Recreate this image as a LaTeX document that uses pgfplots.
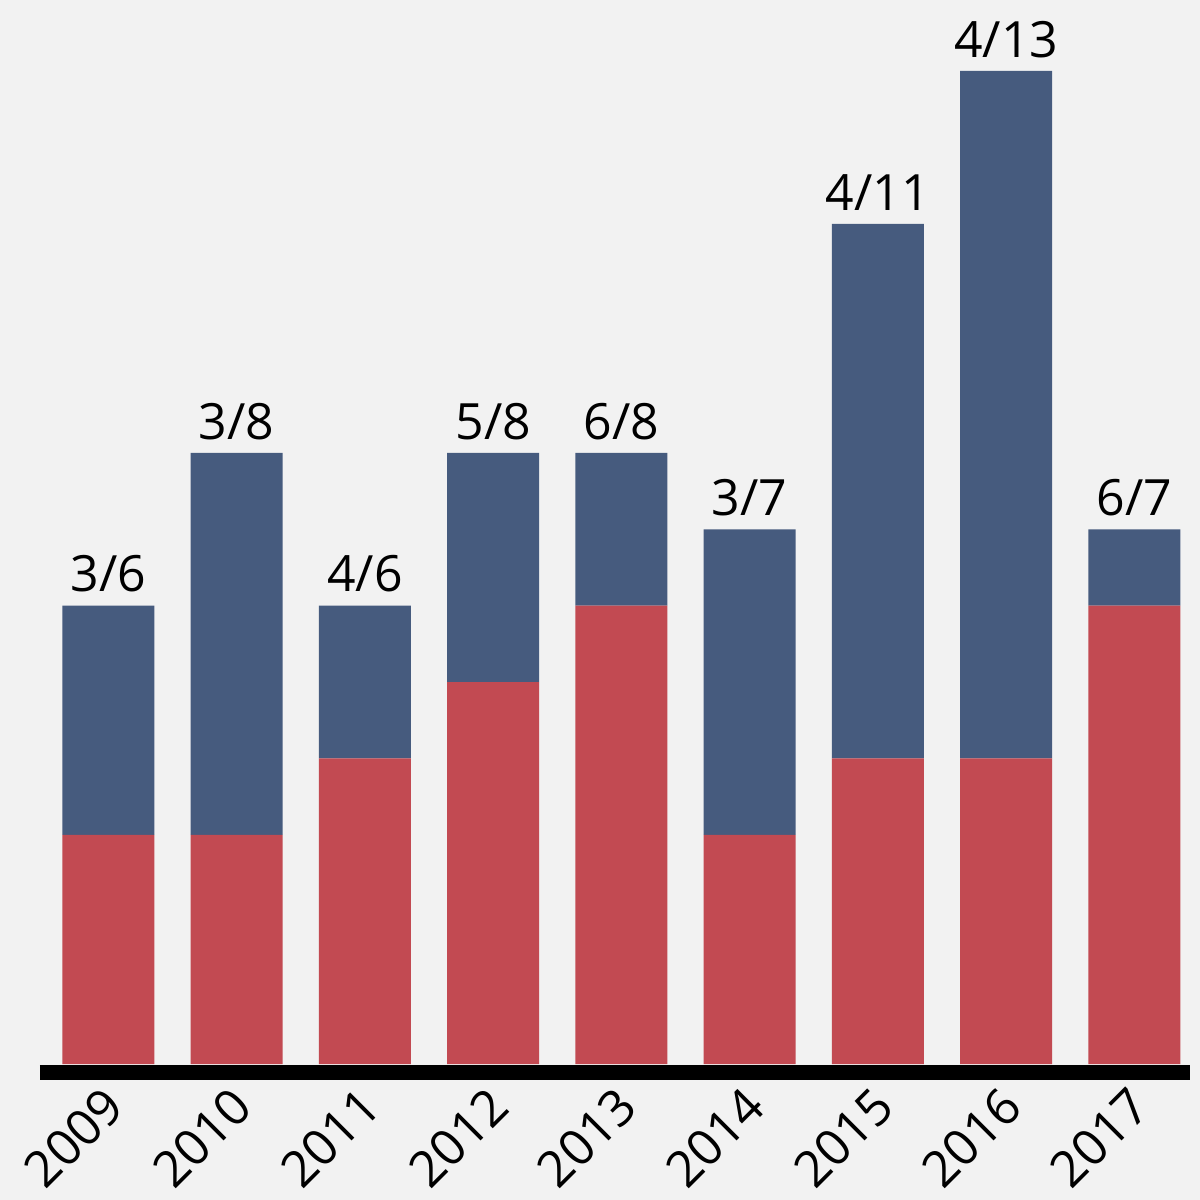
\documentclass[border=0pt]{standalone}
\usepackage{pgfplots}
\pgfplotsset{compat=1.18}
\usepackage{fontspec}
\setmainfont{Open Sans}
\definecolor{bg}{HTML}{F2F2F2}
\definecolor{myblue}{HTML}{465B7E}
\definecolor{myred}{HTML}{C24A52}
\pgfplotsset{common/.style={
  at={(0pt,0pt)}, anchor=south west,
  scale only axis, width=575pt, height=496.5pt,
  xmin=-0.534, xmax=8.433, ymin=0, ymax=13, clip=false}}
\begin{document}
\begin{tikzpicture}
\path[fill=bg, use as bounding box] (-20pt,-68pt) rectangle (580pt,532pt);
\begin{axis}[
  common,
  axis line style={draw=none}, tick style={draw=none},
  ytick=\empty,
  xtick={0,1,2,3,4,5,6,7,8},
  xticklabels={2009,2010,2011,2012,2013,2014,2015,2016,2017},
  xticklabel style={font=\fontsize{25}{25}\selectfont, inner sep=0pt,
    xshift=3pt, yshift=-16.5pt, rotate=45, anchor=east},
  ybar stacked, bar width=46pt,
]
\addplot[fill=myred, draw=none] coordinates {(0,3) (1,3) (2,4) (3,5) (4,6) (5,3) (6,4) (7,4) (8,6)};
\addplot[fill=myblue, draw=none] coordinates {(0,3) (1,5) (2,2) (3,3) (4,2) (5,4) (6,7) (7,9) (8,1)};
\draw[line width=7.5pt, black] ([yshift=-4.25pt]rel axis cs:0,0) -- ([yshift=-4.25pt]rel axis cs:1,0);
\end{axis}
\begin{axis}[common, hide axis]
\addplot[only marks, mark=none, nodes near coords, point meta=explicit symbolic,
  every node near coord/.append style={font=\fontsize{25}{25}\selectfont, inner sep=0pt, anchor=south, yshift=6.5pt, text=black}]
  table[meta=label] {
x y label
0 6 3/6
1 8 3/8
2 6 4/6
3 8 5/8
4 8 6/8
5 7 3/7
6 11 4/11
7 13 4/13
8 7 6/7
};
\end{axis}
\end{tikzpicture}
\end{document}
